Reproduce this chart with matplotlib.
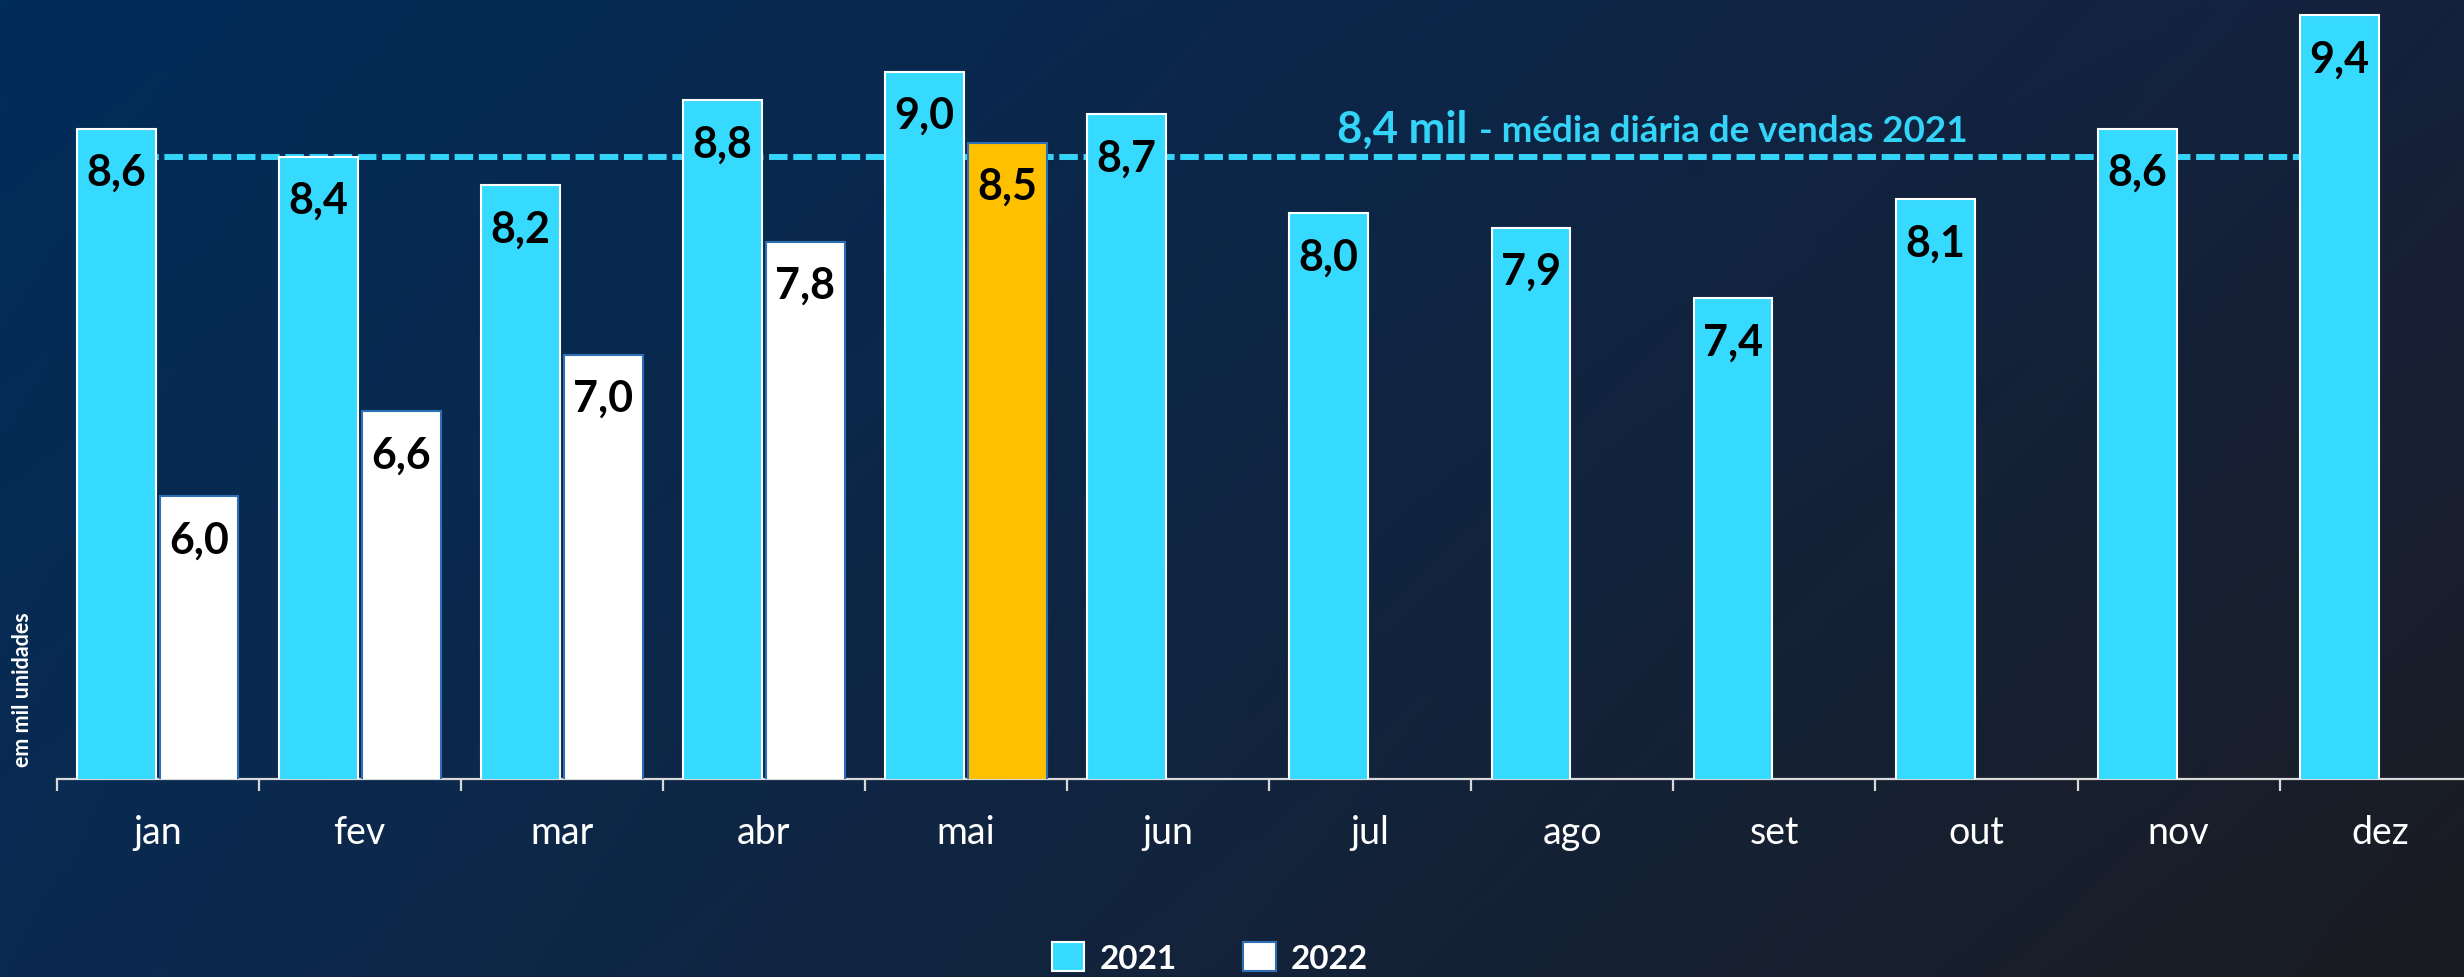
import numpy as np
import matplotlib.pyplot as plt
from matplotlib.colors import to_rgb
from matplotlib.patches import Patch

# ---- data ----
meses = ['jan', 'fev', 'mar', 'abr', 'mai', 'jun', 'jul', 'ago', 'set', 'out', 'nov', 'dez']
vendas_2021 = [8.6, 8.4, 8.2, 8.8, 9.0, 8.7, 8.0, 7.9, 7.4, 8.1, 8.6, 9.4]
vendas_2022 = [6.0, 6.6, 7.0, 7.8, 8.5]
media_2021 = 8.4
texto_media = '8,4 mil'
texto_media2 = '- média diária de vendas 2021'

CIANO = '#36daff'
DOURADO = '#ffc000'
BORDA_AZUL = '#2e6fb5'
FONTE = 'Lato'

W, H, DPI = 2464, 978, 100
fig = plt.figure(figsize=(W / DPI, H / DPI), dpi=DPI)

# ---- background gradient ----
bg = fig.add_axes([0, 0, 1, 1], zorder=0)
tl, tr = np.array(to_rgb('#012d5a')), np.array(to_rgb('#15213c'))
bl, br = np.array(to_rgb('#0b2a51')), np.array(to_rgb('#1b1c22'))
gx = np.linspace(0, 1, 300)[None, :, None]
gy = np.linspace(0, 1, 120)[:, None, None]
img = (1 - gy) * ((1 - gx) * tl + gx * tr) + gy * ((1 - gx) * bl + gx * br)
bg.imshow(img, aspect='auto', extent=[0, 1, 0, 1])
bg.axis('off')

# ---- main axes ----
px_unit = 141.4
y_axis = 780
cat_w = 202.1
x0 = 56.6
ax = fig.add_axes([x0 / W, 1 - y_axis / H, 12 * cat_w / W, y_axis / H], zorder=1)
ax.patch.set_alpha(0)
ax.set_xlim(-0.5, 11.5)
ax.set_ylim(4, 4 + y_axis / px_unit)

x = np.arange(len(meses))
off, bw = 0.205, 0.39
ax.bar(x - off, vendas_2021, width=bw, color=CIANO, edgecolor='white', linewidth=1.5, zorder=3)
cores22 = ['white'] * (len(vendas_2022) - 1) + [DOURADO]
x22 = x[:len(vendas_2022)] + off
ax.bar(x22, vendas_2022, width=bw, color=cores22, edgecolor=BORDA_AZUL, linewidth=1.5, zorder=3)

# data labels inside the top of each bar
for xi, v in list(zip(x - off, vendas_2021)) + list(zip(x22, vendas_2022)):
    ax.annotate(f'{v:.1f}'.replace('.', ','), (xi, v), xytext=(0, -31), textcoords='offset points',
                ha='center', va='center', fontsize=31, fontweight='bold', family=FONTE,
                color='black', zorder=4)

# average line
ax.hlines(media_2021, -off, 11 - off, colors='#33d4f8', linewidth=4.3,
          linestyles=(0, (3.1, 0.95)), zorder=2)
t1 = ax.text(5.835, 8.51, texto_media, fontsize=31.5, fontweight='bold', family=FONTE,
             color='#33d4f8', va='baseline', ha='left', zorder=4)
fig.canvas.draw()
bb = t1.get_window_extent()
ax.annotate(texto_media2, (5.835, 8.51), xytext=((bb.width + 12) * 72 / DPI, 0),
            textcoords='offset points', fontsize=26.5, fontweight='bold', family=FONTE,
            color='#33d4f8', va='baseline', ha='left', zorder=4)

# axis styling
for s in ['top', 'right', 'left']:
    ax.spines[s].set_visible(False)
ax.spines['bottom'].set_color('#d9d9d9')
ax.spines['bottom'].set_linewidth(1.6)
ax.set_yticks([])
ax.set_xticks(x)
ax.set_xticklabels(meses, fontsize=27, family=FONTE, color='white')
ax.tick_params(axis='x', which='major', length=0, pad=25)
ax.set_xticks(np.arange(-0.5, 12, 1), minor=True)
ax.tick_params(axis='x', which='minor', length=8.5, width=1.6, color='#d9d9d9')

fig.text(23 / W, 1 - 690 / H, 'em mil unidades', rotation=90, va='center', ha='center',
         fontsize=15.5, fontweight='bold', family=FONTE, color='white')

# legend
handles = [Patch(facecolor=CIANO, edgecolor='white', linewidth=1.5),
           Patch(facecolor='white', edgecolor=BORDA_AZUL, linewidth=1.5)]
fig.legend(handles, ['2021', '2022'], loc='upper left', bbox_to_anchor=(1052 / W, 1 - 943 / H),
           frameon=False, ncol=2, prop={'family': FONTE, 'weight': 'bold', 'size': 24},
           labelcolor='white', handlelength=0.97, handleheight=0.97, handletextpad=0.45,
           columnspacing=2.0, borderpad=0, borderaxespad=0)

fig.savefig('out.png', dpi=DPI)
